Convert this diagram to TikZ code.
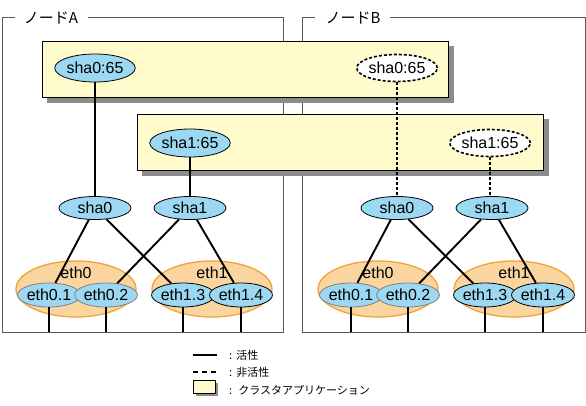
\documentclass[tikz,border=0pt]{standalone}
\usepackage{fontspec}
\setmainfont{Liberation Sans}
\newfontfamily\jp{Noto Sans CJK JP}
\usetikzlibrary{shapes.geometric}
\definecolor{appyellow}{HTML}{FFFBCC}
\definecolor{ifblue}{HTML}{9DD8F2}
\definecolor{bondorange}{HTML}{FAD5A0}
\definecolor{bondedge}{HTML}{F0A438}
\definecolor{framegray}{HTML}{5A5A5A}
\definecolor{shadowgray}{HTML}{8C8C8C}
\begin{document}
\begin{tikzpicture}[x=1pt,y=-1pt,font=\fontsize{16}{18}\selectfont,
  frame/.style={draw=framegray,line width=1pt},
  appbox/.style={draw=black,line width=0.9pt,fill=appyellow},
  appshadow/.style={fill=shadowgray},
  sha/.style={ellipse,draw=black,line width=0.8pt,fill=ifblue,inner sep=0pt,minimum width=72pt,minimum height=23pt},
  shaapp/.style={ellipse,draw=black,line width=0.8pt,fill=ifblue,inner sep=0pt,minimum width=72pt,minimum height=28pt},
  shaoff/.style={ellipse,draw=black,line width=1.6pt,dash pattern=on 3pt off 2pt,fill=white,inner sep=0pt,minimum width=72pt,minimum height=27pt},
  bond/.style={ellipse,draw=bondedge,line width=1.3pt,fill=bondorange,inner sep=0pt,minimum width=120pt,minimum height=56pt},
  ethg/.style={ellipse,draw=gray,line width=0.8pt,fill=ifblue,inner sep=0pt,minimum width=57pt,minimum height=24pt},
  ethk/.style={ellipse,draw=black,line width=0.8pt,fill=ifblue,inner sep=0pt,minimum width=57pt,minimum height=24pt},
  conn/.style={draw=black,line width=1.9pt},
  connoff/.style={draw=black,line width=1.9pt,dash pattern=on 3pt off 2pt},
  title/.style={font=\jp\fontsize{15}{17}\selectfont,inner sep=0pt},
  legtext/.style={font=\jp\fontsize{11}{13}\selectfont,anchor=west,inner sep=0pt}]
\useasboundingbox (0,0) rectangle (586,406);

% frames
\draw[frame] (15,18) -- (2,18) -- (2,332) -- (283,332) -- (283,18) -- (88,18);
\node[title] (tA) at (51,18) {ノードA};
\draw[frame] (315,18) -- (302,18) -- (302,332) -- (585,332) -- (585,18) -- (390,18);
\node[title] (tB) at (353,18) {ノードB};

% application boxes
\fill[appshadow] (47,46) rectangle (454,103);
\draw[appbox] (42,41) rectangle (448,97);
\fill[appshadow] (142,119) rectangle (549,176);
\draw[appbox] (137,114) rectangle (543,170);

\node[shaapp] (A65a) at (95,68) {sha0:65};
\node[shaoff] (B65a) at (397,68) {sha0:65};
\node[shaapp] (A65b) at (190,143) {sha1:65};
\node[shaoff] (B65b) at (490,143) {sha1:65};

% node A
\node[sha] (Asha0) at (95,208) {sha0};
\node[sha] (Asha1) at (190,208) {sha1};
\node[bond] (Aeth0) at (76,289) {};
\node[bond] (Aeth1) at (212,289) {};
\node (Aeth0l) at (76,273) {eth0};
\node (Aeth1l) at (212,273) {eth1};
\node[ethg] (Ae01) at (49,295) {eth0.1};
\node[ethg] (Ae02) at (106,295) {eth0.2};
\node[ethk] (Ae13) at (183,295) {eth1.3};
\node[ethk] (Ae14) at (241,295) {eth1.4};

% node B
\node[sha] (Bsha0) at (397,208) {sha0};
\node[sha] (Bsha1) at (492,208) {sha1};
\node[bond] (Beth0) at (378,289) {};
\node[bond] (Beth1) at (514,289) {};
\node (Beth0l) at (378,273) {eth0};
\node (Beth1l) at (514,273) {eth1};
\node[ethg] (Be01) at (351,295) {eth0.1};
\node[ethg] (Be02) at (408,295) {eth0.2};
\node[ethk] (Be13) at (485,295) {eth1.3};
\node[ethk] (Be14) at (543,295) {eth1.4};

% connectors
\draw[conn] (A65a) -- (Asha0);
\draw[conn] (A65b) -- (Asha1);
\draw[connoff] (B65a) -- (Bsha0);
\draw[connoff] (B65b.south) -- (B65b.south |- Bsha1.north);

\foreach \n in {A,B}{
  \draw[conn] (\n sha0) -- (\n e01);
  \draw[conn] (\n sha0) -- (\n e13);
  \draw[conn] (\n sha1) -- (\n e02);
  \draw[conn] (\n sha1) -- (\n e14);
  \foreach \e in {e01,e02,e13,e14}{
    \coordinate (\n\e d) at (\n\e.south |- 0,332);
    \draw[conn] (\n\e.south) -- (\n\e d);
  }
}

% legend
\coordinate (l1a) at (193,355); \coordinate (l1b) at (217,355);
\draw[conn] (l1a) -- (l1b);
\node[legtext] (lt1) at (229,355) {:\hspace{4pt}活性};
\coordinate (l2a) at (193,372); \coordinate (l2b) at (217,372);
\draw[draw=black,line width=1.9pt,dash pattern=on 5pt off 4pt] (l2a) -- (l2b);
\node[legtext] (lt2) at (229,372) {:\hspace{4pt}非活性};
\fill[appshadow] (196,383) rectangle (218,396);
\draw[appbox] (193,380) rectangle (215,393);
\node[legtext] (lt3) at (229,390) {:\hspace{6pt}クラスタアプリケーション};
\end{tikzpicture}
\end{document}
